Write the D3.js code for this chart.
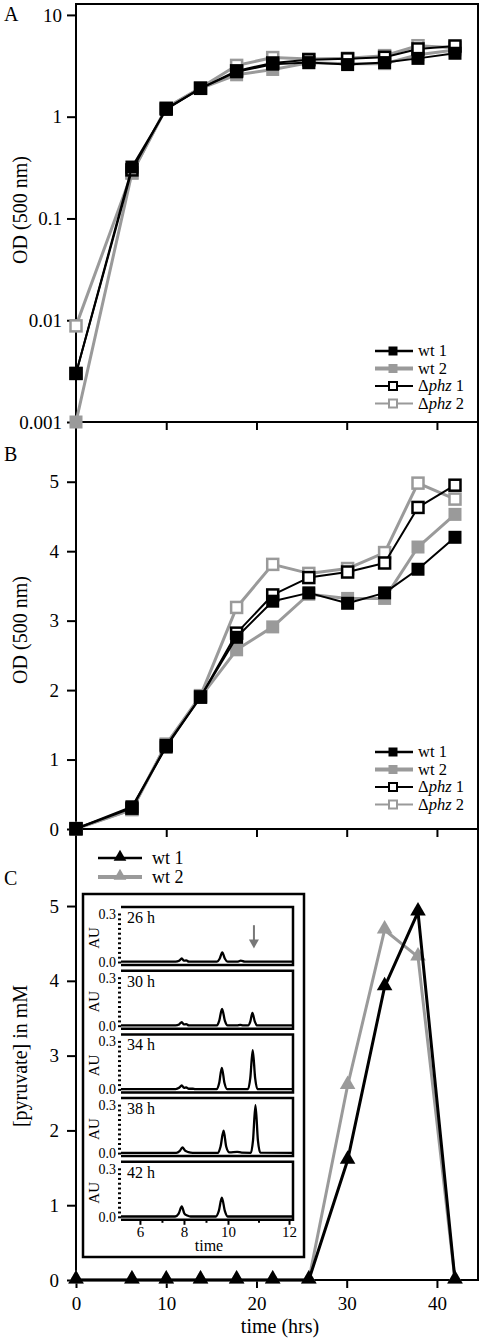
<!DOCTYPE html>
<html><head><meta charset="utf-8">
<script src="https://cdn.jsdelivr.net/npm/d3@7"></script>
<style>
body{margin:0;background:#fff}
svg{display:block;font-family:'Liberation Serif','DejaVu Serif',serif}
svg text{font-family:'Liberation Serif','DejaVu Serif',serif;fill:#000}
</style>
</head><body>
<svg id="c" width="480" height="1340" font-family="Liberation Serif"></svg>
<script>
// ---------- DATA ----------
const times = [0, 6.2, 10, 13.8, 17.8, 21.8, 25.8, 30.1, 34.2, 37.9, 42];
const wt1  = [0.003, 0.32, 1.18, 1.90, 2.76, 3.28, 3.40, 3.25, 3.40, 3.74, 4.20];
const wt2  = [0.001, 0.28, 1.22, 1.90, 2.58, 2.91, 3.38, 3.32, 3.32, 4.06, 4.53];
const phz1 = [0.003, 0.30, 1.20, 1.90, 2.82, 3.37, 3.62, 3.70, 3.83, 4.63, 4.95];
const phz2 = [0.0088, 0.28, 1.22, 1.92, 3.19, 3.81, 3.68, 3.75, 3.98, 4.98, 4.75];
const pyrWt1 = [0, 0, 0, 0, 0, 0, 0, 1.60, 3.92, 4.92, 0];
const pyrWt2 = [0, 0, 0, 0, 0, 0, 0, 2.60, 4.68, 4.32, 0];

const logTicks = [0.001, 0.01, 0.1, 1, 10];
const logTickLabels = ["0.001", "0.01", "0.1", "1", "10"];
const linTicks = [0, 1, 2, 3, 4, 5];
const timeTicks = [0, 10, 20, 30, 40];
const odLegend = ["wt 1", "wt 2", "Δphz 1", "Δphz 2"];
const pyrLegend = ["wt 1", "wt 2"];

// inset chromatograms (time, AU)
const chromLabels = ["26 h", "30 h", "34 h", "38 h", "42 h"];
const tr26 = [[5.14,0.002],[7.62,0.002],[7.78,0.008],[7.9,0.022],[8.0,0.008],[8.1,0.01],[8.22,0.002],[9.5,0.002],[9.62,0.02],[9.74,0.06],[9.86,0.02],[9.98,0.002],[10.3,0.002],[10.42,0.008],[10.55,0.002],[12.13,0.002]];
const tr30 = [[5.14,0.002],[7.62,0.002],[7.78,0.008],[7.9,0.022],[8.0,0.008],[8.1,0.01],[8.22,0.002],[9.5,0.002],[9.6,0.03],[9.73,0.105],[9.86,0.03],[9.98,0.002],[10.3,0.002],[10.4,0.005],[10.5,0.002],[10.66,0.002],[10.73,0.025],[10.8,0.08],[10.88,0.025],[10.96,0.002],[12.13,0.002]];
const tr34 = [[5.14,0.002],[7.62,0.002],[7.78,0.01],[7.9,0.025],[8.0,0.01],[8.1,0.012],[8.22,0.004],[8.4,0.004],[8.5,0.002],[9.5,0.002],[9.6,0.04],[9.72,0.135],[9.84,0.04],[9.96,0.002],[10.66,0.002],[10.73,0.07],[10.81,0.245],[10.89,0.07],[10.96,0.002],[12.13,0.002]];
const tr38 = [[5.14,0.002],[7.65,0.002],[7.8,0.012],[7.93,0.035],[8.05,0.015],[8.2,0.006],[8.4,0.002],[9.55,0.002],[9.66,0.04],[9.8,0.14],[9.92,0.04],[10.05,0.004],[10.3,0.008],[10.45,0.003],[10.75,0.002],[10.82,0.08],[10.9,0.3],[10.98,0.08],[11.06,0.003],[12.13,0.002]];
const tr42 = [[5.14,0.002],[7.6,0.002],[7.76,0.02],[7.9,0.065],[8.02,0.02],[8.15,0.008],[8.3,0.002],[9.45,0.002],[9.58,0.035],[9.72,0.12],[9.86,0.035],[9.98,0.002],[12.13,0.002]];
const traces = [tr26, tr30, tr34, tr38, tr42];
const insetMajor = [6, 8, 10, 12];
const insetMinor = [7, 9, 11];
const auTicks = [0, 0.03, 0.06, 0.09, 0.12, 0.15, 0.18, 0.21, 0.24, 0.27, 0.3];
const arrowAt = {t: 10.85, from: 0.23, to: 0.085};

// ---------- SETUP ----------
const FONT = "'Liberation Serif','DejaVu Serif',serif";
const svg = d3.select("#c");
const X0 = 76, X1 = 478;
const A_T = 4, A_B = 422, B_B = 829, C_B = 1280;
const gray = "#9a9a9a";
const x = d3.scaleLinear().domain([0, 44.55]).range([X0, X1]);
const yA = d3.scaleLog().domain([0.001, 12.8]).range([A_B, A_T]);
const yB = d3.scaleLinear().domain([0, 5.86]).range([B_B, A_B]);
const yC = d3.scaleLinear().domain([0, 6.03]).range([C_B, B_B]);

const TICKFS = 19;

// frame
svg.append("rect").attr("x", X0).attr("y", A_T).attr("width", X1 - X0).attr("height", C_B - A_T)
  .attr("fill", "none").attr("stroke", "#000").attr("stroke-width", 2);
[A_B, B_B].forEach(yy => svg.append("line").attr("x1", X0).attr("x2", X1).attr("y1", yy).attr("y2", yy)
  .attr("stroke", "#000").attr("stroke-width", 2));

function styleAxis(g, fs) {
  g.attr("font-family", null);
  g.select(".domain").remove();
  g.selectAll("line").attr("stroke", "#000").attr("stroke-width", 2);
  g.selectAll("text").attr("font-size", fs).style("font-family", FONT);
}

// y axes
svg.append("g").attr("transform", `translate(${X0},0)`)
  .call(d3.axisLeft(yA).tickValues(logTicks).tickFormat((d, i) => logTickLabels[i]).tickSize(9).tickPadding(5))
  .call(g => styleAxis(g, TICKFS));
svg.append("g").attr("transform", `translate(${X0},0)`)
  .call(d3.axisLeft(yB).tickValues(linTicks).tickFormat(d3.format("d")).tickSize(9).tickPadding(8))
  .call(g => styleAxis(g, TICKFS));
svg.append("g").attr("transform", `translate(${X0},0)`)
  .call(d3.axisLeft(yC).tickValues(linTicks).tickFormat(d3.format("d")).tickSize(9).tickPadding(8))
  .call(g => styleAxis(g, TICKFS));

// x ticks
[A_B, B_B].forEach(yy => svg.append("g").attr("transform", `translate(0,${yy})`)
  .call(d3.axisBottom(x).tickValues(timeTicks.slice(1)).tickFormat("").tickSize(8))
  .call(g => styleAxis(g, TICKFS)));
svg.append("g").attr("transform", `translate(0,${C_B})`)
  .call(d3.axisBottom(x).tickValues(timeTicks).tickFormat(d3.format("d")).tickSize(8).tickPadding(9))
  .call(g => styleAxis(g, TICKFS));

function txt(sel) { return sel.append("text").style("font-family", FONT); }

// titles
txt(svg).attr("x", 280).attr("y", 1333).attr("text-anchor", "middle").attr("font-size", 20).text("time (hrs)");
[["OD (500 nm)", 210], ["OD (500 nm)", 630], ["[pyruvate] in mM", 1056]].forEach(([t, cy]) =>
  txt(svg).attr("transform", `translate(27,${cy}) rotate(-90)`).attr("text-anchor", "middle")
    .attr("font-size", 20).text(t));
[["A", 21], ["B", 461], ["C", 885]].forEach(([t, yy]) =>
  txt(svg).attr("x", 4).attr("y", yy).attr("font-size", 20).text(t));

// ---------- OD panels ----------
const series = [
  {vals: phz2, color: gray, fill: "#fff", lw: 3, open: true},
  {vals: wt2, color: gray, fill: gray, lw: 3, open: false},
  {vals: phz1, color: "#000", fill: "#fff", lw: 2, open: true},
  {vals: wt1, color: "#000", fill: "#000", lw: 2, open: false},
];
function drawOD(y) {
  series.forEach(s => {
    const pts = times.map((t, i) => [x(t), y(Math.max(s.vals[i], y.domain()[0]))]);
    svg.append("path").attr("d", d3.line()(pts)).attr("fill", "none")
      .attr("stroke", s.color).attr("stroke-width", s.lw).attr("stroke-linejoin", "round");
    pts.forEach(p => {
      if (s.open) {
        svg.append("rect").attr("x", p[0] - 5.5).attr("y", p[1] - 5.5).attr("width", 11).attr("height", 11)
          .attr("fill", "#fff").attr("stroke", s.color).attr("stroke-width", 2.5);
      } else {
        svg.append("rect").attr("x", p[0] - 6.5).attr("y", p[1] - 6.5).attr("width", 13).attr("height", 13)
          .attr("fill", s.fill);
      }
    });
  });
}
drawOD(yA);
drawOD(yB);

function odLegendDraw(rows) {
  const order = [3, 1, 2, 0];
  order.forEach((si, k) => {
    const s = series[si], cy = rows[k];
    svg.append("line").attr("x1", 375).attr("x2", 413).attr("y1", cy).attr("y2", cy)
      .attr("stroke", s.color).attr("stroke-width", s.open ? 2 : (s.color === gray ? 4 : 2.5));
    if (s.open) {
      svg.append("rect").attr("x", 389).attr("y", cy - 4).attr("width", 8).attr("height", 8)
        .attr("fill", "#fff").attr("stroke", s.color).attr("stroke-width", 2);
    } else {
      svg.append("rect").attr("x", 388.5).attr("y", cy - 4.5).attr("width", 9).attr("height", 9).attr("fill", s.fill);
    }
    const lbl = odLegend[k];
    const t = txt(svg).attr("x", 418).attr("y", cy + 5).attr("font-size", 16.5);
    if (lbl.startsWith("Δ")) {
      t.append("tspan").text("Δ");
      t.append("tspan").attr("font-style", "italic").text("phz");
      t.append("tspan").text(lbl.slice(4));
    } else t.text(lbl);
  });
}
odLegendDraw([351, 368.5, 386, 403.5]);
odLegendDraw([752, 769.5, 787, 804.5]);

// ---------- Inset ----------
const IX0 = 83, IX1 = 304, IY0 = 894, IY1 = 1257;
svg.append("rect").attr("x", IX0).attr("y", IY0).attr("width", IX1 - IX0).attr("height", IY1 - IY0)
  .attr("fill", "#fff").attr("stroke", "#000").attr("stroke-width", 2.5);
const xi = d3.scaleLinear().domain([5.14, 10, 12.13]).range([121, 228, 293]);
const subH = 58, subStep = 63.7, subTop0 = 907;
traces.forEach((tr, i) => {
  const top = subTop0 + i * subStep, bot = top + subH;
  const yi = d3.scaleLinear().domain([0, 0.3]).range([bot - 3, top + 7]);
  const cid = "clip" + i;
  svg.append("clipPath").attr("id", cid).append("rect").attr("x", 121).attr("y", top).attr("width", 172).attr("height", subH);
  svg.append("path").attr("clip-path", `url(#${cid})`)
    .attr("d", d3.line().x(d => xi(d[0])).y(d => yi(d[1])).curve(d3.curveMonotoneX)(tr))
    .attr("fill", "none").attr("stroke", "#000").attr("stroke-width", 2.3);
  svg.append("path").attr("d", `M121,${top}H293V${bot}H121`).attr("fill", "none").attr("stroke", "#000").attr("stroke-width", 2.5);
  svg.append("g").attr("transform", "translate(121,0)")
    .call(d3.axisLeft(yi).tickValues(auTicks).tickSize(3).tickPadding(2)
      .tickFormat(d => d === 0 ? "0.0" : (Math.abs(d - 0.3) < 1e-9 ? "0.3" : "")))
    .call(g => { styleAxis(g, 14); });
  txt(svg).attr("x", 127).attr("y", top + 16).attr("font-size", 16).text(chromLabels[i]);
  txt(svg).attr("transform", `translate(99,${(top + bot) / 2 + 2}) rotate(-90)`)
    .attr("text-anchor", "middle").attr("font-size", 15).text("AU");
  if (i === 0) {
    const ax = xi(arrowAt.t), ya = yi(arrowAt.from), yb = yi(arrowAt.to);
    svg.append("line").attr("x1", ax).attr("x2", ax).attr("y1", ya).attr("y2", yb - 6)
      .attr("stroke", "#777").attr("stroke-width", 2);
    svg.append("path").attr("d", `M${ax - 5},${yb - 9}L${ax + 5},${yb - 9}L${ax},${yb}Z`).attr("fill", "#777");
  }
  if (i === traces.length - 1) {
    svg.append("g").attr("transform", `translate(0,${bot})`)
      .call(d3.axisBottom(xi).tickValues(insetMajor).tickFormat(d3.format("d")).tickSize(5).tickPadding(2))
      .call(g => styleAxis(g, 15));
    svg.append("g").attr("transform", `translate(0,${bot})`)
      .call(d3.axisBottom(xi).tickValues(insetMinor).tickFormat("").tickSize(3))
      .call(g => styleAxis(g, 15));
    txt(svg).attr("x", 209).attr("y", bot + 31).attr("text-anchor", "middle").attr("font-size", 16).text("time");
  }
});

// ---------- Pyruvate panel ----------
const tri = d3.symbol().type(d3.symbolTriangle);
[{vals: pyrWt2, color: gray}, {vals: pyrWt1, color: "#000"}].forEach(s => {
  const pts = times.map((t, i) => [x(t), yC(s.vals[i])]);
  svg.append("path").attr("d", d3.line()(pts)).attr("fill", "none").attr("stroke", s.color)
    .attr("stroke-width", 3).attr("stroke-linejoin", "round");
  pts.forEach(p => svg.append("path").attr("d", tri.size(105)()).attr("transform", `translate(${p[0]},${p[1] - 1})`)
    .attr("fill", s.color));
});
[{color: "#000"}, {color: gray}].forEach((s, k) => {
  const cy = [858, 877][k];
  svg.append("line").attr("x1", 98).attr("x2", 142).attr("y1", cy).attr("y2", cy)
    .attr("stroke", s.color).attr("stroke-width", s.color === gray ? 4 : 2.5);
  svg.append("path").attr("d", tri.size(70)()).attr("transform", `translate(120,${cy - 1})`).attr("fill", s.color);
  txt(svg).attr("x", 152).attr("y", cy + 6).attr("font-size", 18).text(pyrLegend[k]);
});
</script>
</body></html>
